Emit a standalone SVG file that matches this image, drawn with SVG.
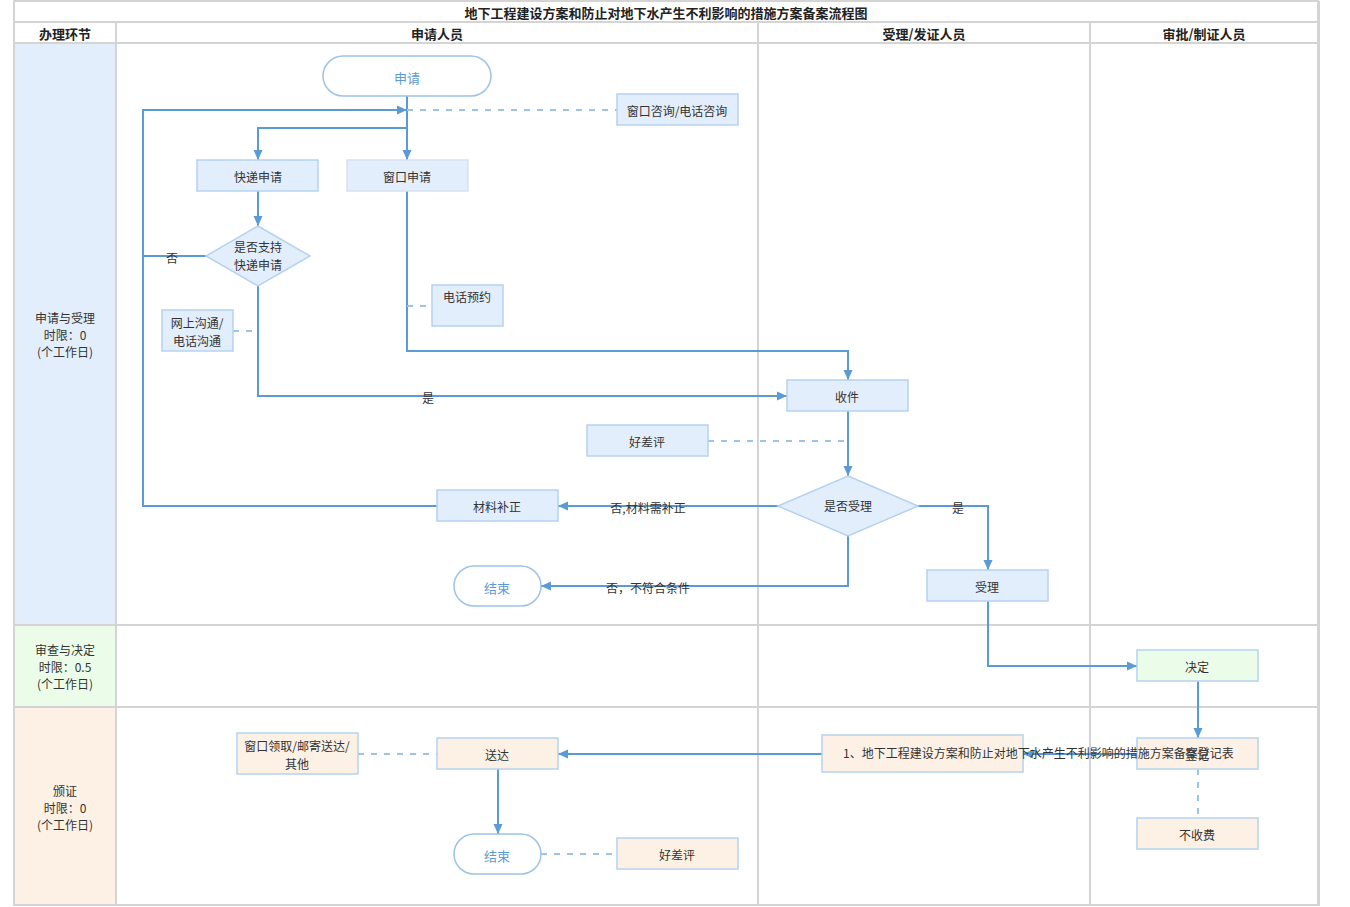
<svg xmlns="http://www.w3.org/2000/svg" width="1350" height="907" viewBox="0 0 1350 907">
<style>
text{font-family:"Noto Sans CJK SC","Liberation Sans",sans-serif;font-size:12px;fill:#333;text-anchor:middle;dominant-baseline:central}
.hd{font-weight:bold;font-size:13px;fill:#222}
.grid{stroke:#D4D4D4;stroke-width:2;fill:none}
.b{fill:#E3EEFD;stroke:#B4D2F0;stroke-width:1.5}
.g{fill:#EBFDE8;stroke:#B4D2F0;stroke-width:1.5}
.o{fill:#FDF1E5;stroke:#B4D2F0;stroke-width:1.5}
.t{fill:#fff;stroke:#9DC3E6;stroke-width:1.5}
.tt{fill:#5B9BD5;font-size:13px}
.e{stroke:#5B9BD5;stroke-width:2;fill:none}
.ea{stroke:#5B9BD5;stroke-width:2;fill:none;marker-end:url(#ah)}
.d{stroke:#9DC3E6;stroke-width:2;fill:none;stroke-dasharray:6 7}
</style>
<defs>
<marker id="ah" viewBox="0 0 10 10" refX="10" refY="5" markerWidth="10" markerHeight="10" markerUnits="userSpaceOnUse" orient="auto">
<path d="M0,0.5 L10,5 L0,9.5 z" fill="#5B9BD5"/>
</marker>
</defs>
<rect width="1350" height="907" fill="#fff"/>
<g id="lanes">
<rect x="15" y="43" width="101" height="582" fill="#E3EEFD"/>
<rect x="15" y="625" width="101" height="82" fill="#EBFDE8"/>
<rect x="15" y="707" width="101" height="198" fill="#FDF1E5"/>
<rect x="14" y="1" width="1304" height="904" class="grid"/>
<path class="grid" d="M14,22 H1318 M14,43 H1318 M14,625 H1318 M14,707 H1318 M116,22 V905 M758,22 V905 M1090,22 V905"/>
<line x1="1319" y1="1" x2="1319" y2="906" stroke="#D4D4D4" stroke-width="2"/>
<text class="hd" x="666" y="12">地下工程建设方案和防止对地下水产生不利影响的措施方案备案流程图</text>
<text class="hd" x="65" y="33">办理环节</text>
<text class="hd" x="437" y="33">申请人员</text>
<text class="hd" x="924" y="33">受理/发证人员</text>
<text class="hd" x="1204" y="33">审批/制证人员</text>
<text x="65" y="317">申请与受理</text>
<text x="65" y="334">时限：0</text>
<text x="65" y="351">(个工作日)</text>
<text x="65" y="649">审查与决定</text>
<text x="65" y="666">时限：0.5</text>
<text x="65" y="683">(个工作日)</text>
<text x="65" y="790">颁证</text>
<text x="65" y="807">时限：0</text>
<text x="65" y="824">(个工作日)</text>
</g>
<g id="connectors">
<path class="ea" d="M407,96 V160"/>
<path class="ea" d="M407,128 H258 V160"/>
<path class="ea" d="M437,506 H143 V110 H407"/>
<path class="e" d="M206,256 H143"/>
<path class="d" d="M407,110 H617"/>
<path class="ea" d="M258,191 V226"/>
<path class="ea" d="M258,286 V396 H787"/>
<path class="d" d="M233,331 H258"/>
<path class="ea" d="M407,191 V351 H848 V380"/>
<path class="d" d="M407,306 H432"/>
<path class="ea" d="M848,411 V476"/>
<path class="d" d="M708,441 H848"/>
<path class="ea" d="M778,506 H558"/>
<path class="ea" d="M848,536 V586 H541"/>
<path class="ea" d="M918,506 H988 V570"/>
<path class="ea" d="M988,601 V666 H1137"/>
<path class="ea" d="M1198,681 V738"/>
<path class="ea" d="M1137,754 H1023"/>
<path class="ea" d="M822,754 H558"/>
<path class="d" d="M1198,769 V818"/>
<path class="d" d="M358,754 H437"/>
<path class="ea" d="M498,769 V834"/>
<path class="d" d="M541,854 H617"/>
<text x="172" y="257">否</text>
<text x="428" y="397">是</text>
<text x="648" y="507">否,材料需补正</text>
<text x="648" y="587">否，不符合条件</text>
<text x="958" y="507">是</text>
</g>
<g id="n-apply"><rect class="t" x="323" y="56" width="168" height="40" rx="20"/><text class="tt" x="407" y="77">申请</text></g>
<g id="n-consult"><rect class="b" x="617" y="94" width="121" height="31"/><text x="677" y="110">窗口咨询/电话咨询</text></g>
<g id="n-express"><rect class="b" x="197" y="160" width="121" height="31"/><text x="258" y="176">快递申请</text></g>
<g id="n-window"><rect class="b" x="347" y="160" width="121" height="31" style="stroke:#D6E2EE"/><text x="407" y="176">窗口申请</text></g>
<g id="n-support"><path class="b" d="M258,226 L310,256 L258,286 L206,256 Z"/><text x="258" y="246">是否支持</text><text x="258" y="264">快递申请</text></g>
<g id="n-online"><rect class="b" x="162" y="310" width="71" height="41"/><text x="197" y="322">网上沟通/</text><text x="197" y="340">电话沟通</text></g>
<g id="n-phone"><rect class="b" x="432" y="285" width="71" height="41"/><text x="467" y="296">电话预约</text></g>
<g id="n-receive"><rect class="b" x="787" y="380" width="121" height="31"/><text x="847" y="396">收件</text></g>
<g id="n-rating1"><rect class="b" x="587" y="425" width="121" height="31"/><text x="647" y="441">好差评</text></g>
<g id="n-accept-q"><path class="b" d="M848,476 L918,506 L848,536 L778,506 Z"/><text x="848" y="505">是否受理</text></g>
<g id="n-supplement"><rect class="b" x="437" y="490" width="121" height="31"/><text x="497" y="506">材料补正</text></g>
<g id="n-end1"><rect class="t" x="454" y="566" width="87" height="40" rx="20"/><text class="tt" x="497" y="587">结束</text></g>
<g id="n-accept"><rect class="b" x="927" y="570" width="121" height="31"/><text x="987" y="586">受理</text></g>
<g id="n-decide"><rect class="g" x="1137" y="650" width="121" height="31"/><text x="1197" y="666">决定</text></g>
<g id="n-register"><rect class="o" x="1137" y="738" width="121" height="31"/><text x="1197" y="754">登记</text></g>
<g id="n-form"><rect class="o" x="822" y="735" width="201" height="37"/><text x="843" y="752" style="text-anchor:start">1、地下工程建设方案和防止对地下水产生不利影响的措施方案备案登记表</text></g>
<g id="n-nofee"><rect class="o" x="1137" y="818" width="121" height="31"/><text x="1197" y="834">不收费</text></g>
<g id="n-deliver"><rect class="o" x="437" y="738" width="121" height="31"/><text x="497" y="754">送达</text></g>
<g id="n-pickup"><rect class="o" x="237" y="733" width="121" height="41"/><text x="297" y="745">窗口领取/邮寄送达/</text><text x="297" y="763">其他</text></g>
<g id="n-end2"><rect class="t" x="454" y="834" width="87" height="40" rx="20"/><text class="tt" x="497" y="855">结束</text></g>
<g id="n-rating2"><rect class="o" x="617" y="838" width="121" height="31"/><text x="677" y="854">好差评</text></g>
</svg>
